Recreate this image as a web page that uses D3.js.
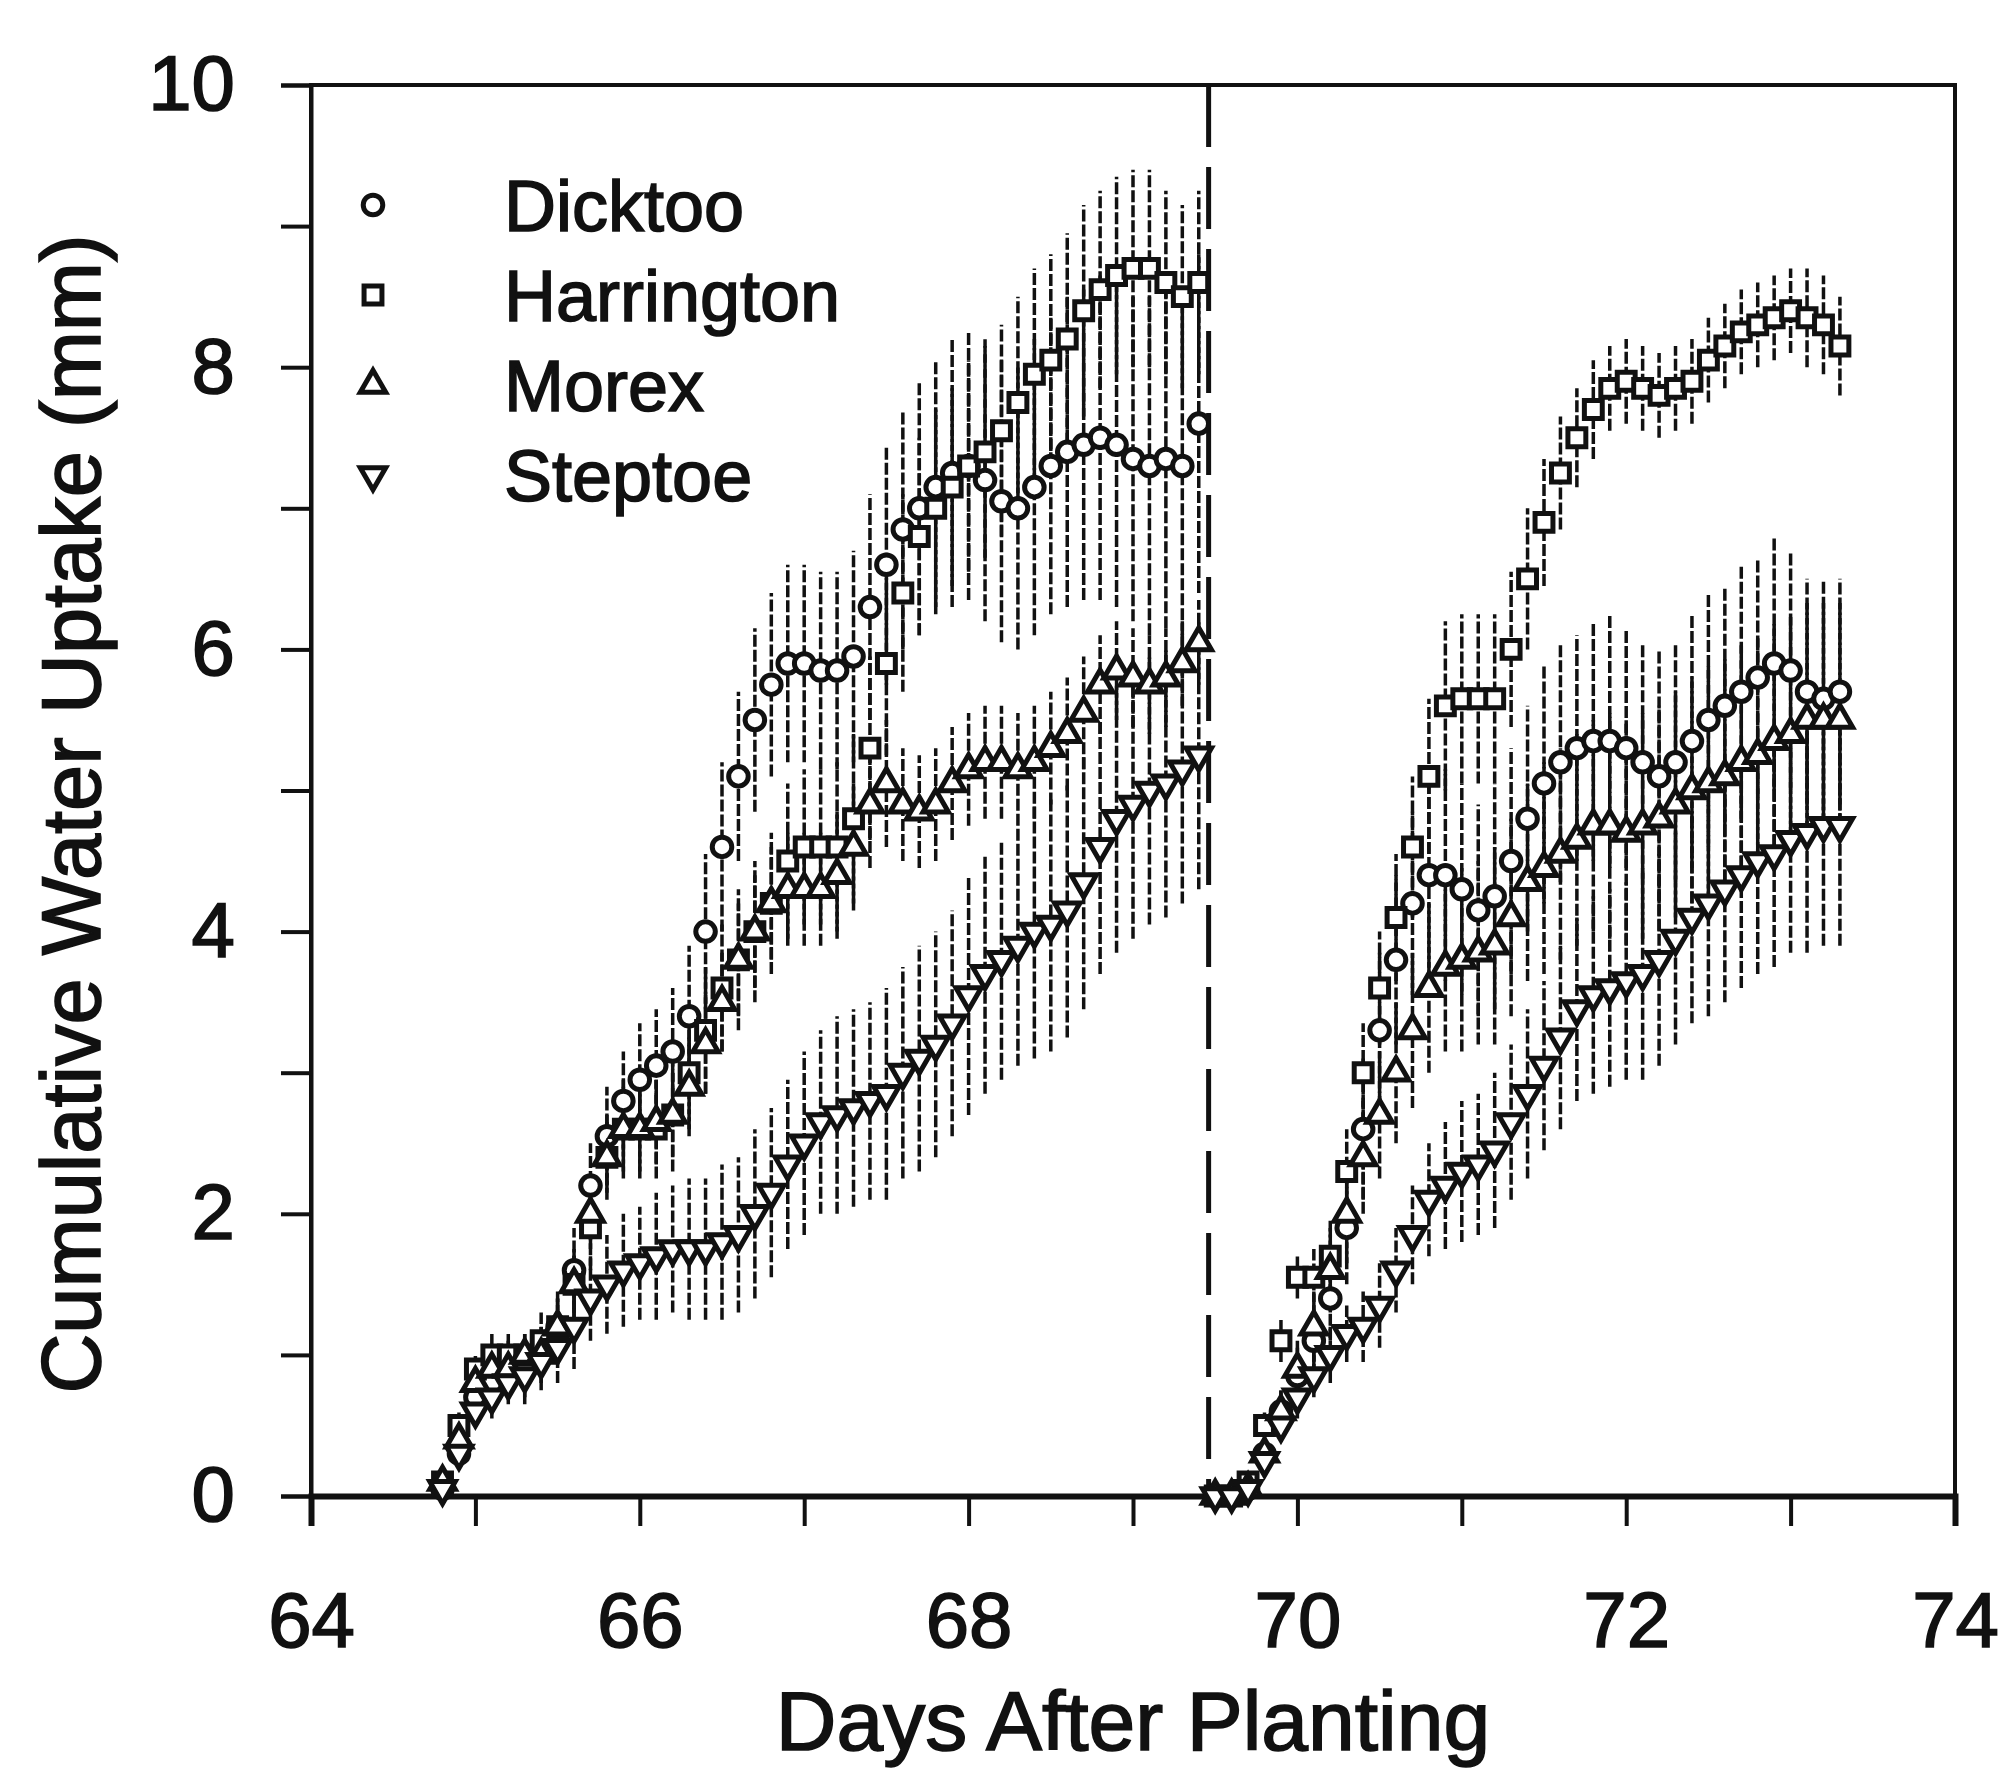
<!DOCTYPE html>
<html>
<head>
<meta charset="utf-8">
<script src="https://cdn.jsdelivr.net/npm/d3@7"></script>
<style>
  body { margin: 0; background: #fff; }
  svg { display: block; font-family: "Liberation Sans", Arial, sans-serif; }
  svg text { stroke: #111; stroke-width: 1.6px; }
</style>
</head>
<body>
<div id="wrapper"></div>
<script>
// days of the two measuring runs (split by the dashed line)
const daysLeft = [64.8, 64.9, 65.0, 65.1, 65.2, 65.3, 65.4, 65.5, 65.6, 65.7,
                  65.8, 65.9, 66.0, 66.1, 66.2, 66.3, 66.4, 66.5, 66.6, 66.7,
                  66.8, 66.9, 67.0, 67.1, 67.2, 67.3, 67.4, 67.5, 67.6, 67.7,
                  67.8, 67.9, 68.0, 68.1, 68.2, 68.3, 68.4, 68.5, 68.6, 68.7,
                  68.8, 68.9, 69.0, 69.1, 69.2, 69.3, 69.4];
const daysRight = [69.5, 69.6, 69.7, 69.8, 69.9, 70.0, 70.1, 70.2, 70.3, 70.4,
                   70.5, 70.6, 70.7, 70.8, 70.9, 71.0, 71.1, 71.2, 71.3, 71.4,
                   71.5, 71.6, 71.7, 71.8, 71.9, 72.0, 72.1, 72.2, 72.3, 72.4,
                   72.5, 72.6, 72.7, 72.8, 72.9, 73.0, 73.1, 73.2, 73.3];
const splitDay = 69.46;

const cultivars = ["Dicktoo", "Harrington", "Morex", "Steptoe"];

// cumulative uptake (mm)
const dicktooLeft = [0.05, 0.3, 0.7, 0.8, 0.9, 0.9, 1.0, 1.2, 1.6, 2.2,
                     2.55, 2.8, 2.95, 3.05, 3.15, 3.4, 4.0, 4.6, 5.1, 5.5,
                     5.75, 5.9, 5.9, 5.85, 5.85, 5.95, 6.3, 6.6, 6.85, 7.0,
                     7.15, 7.25, 7.3, 7.2, 7.05, 7.0, 7.15, 7.3, 7.4, 7.45,
                     7.5, 7.45, 7.35, 7.3, 7.35, 7.3, 7.6];
const harringtonLeft = [0.1, 0.5, 0.9, 1.0, 1.0, 1.0, 1.1, 1.2, 1.5, 1.9,
                        2.4, 2.6, 2.6, 2.6, 2.7, 3.0, 3.3, 3.6, 3.8, 4.0,
                        4.2, 4.5, 4.6, 4.6, 4.6, 4.8, 5.3, 5.9, 6.4, 6.8,
                        7.0, 7.15, 7.3, 7.4, 7.55, 7.75, 7.95, 8.05, 8.2, 8.4,
                        8.55, 8.65, 8.7, 8.7, 8.6, 8.5, 8.6];
const morexLeft = [0.1, 0.4, 0.8, 0.9, 0.9, 1.0, 1.0, 1.2, 1.5, 2.0,
                   2.4, 2.6, 2.6, 2.65, 2.7, 2.9, 3.2, 3.5, 3.8, 4.0,
                   4.2, 4.3, 4.3, 4.3, 4.4, 4.6, 4.9, 5.05, 4.9, 4.85,
                   4.9, 5.05, 5.15, 5.2, 5.2, 5.15, 5.2, 5.3, 5.4, 5.55,
                   5.75, 5.85, 5.8, 5.75, 5.8, 5.9, 6.05];
const steptoeLeft = [0.05, 0.3, 0.6, 0.7, 0.8, 0.85, 0.95, 1.05, 1.2, 1.4,
                     1.5, 1.6, 1.65, 1.7, 1.75, 1.75, 1.75, 1.8, 1.85, 2.0,
                     2.15, 2.35, 2.5, 2.65, 2.7, 2.75, 2.8, 2.85, 3.0, 3.1,
                     3.2, 3.35, 3.55, 3.7, 3.8, 3.9, 4.0, 4.05, 4.15, 4.35,
                     4.6, 4.8, 4.9, 5.0, 5.05, 5.15, 5.25];

const dicktooRight = [0.0, 0.0, 0.05, 0.3, 0.6, 0.85, 1.1, 1.4, 1.9, 2.6,
                      3.3, 3.8, 4.2, 4.4, 4.4, 4.3, 4.15, 4.25, 4.5, 4.8,
                      5.05, 5.2, 5.3, 5.35, 5.35, 5.3, 5.2, 5.1, 5.2, 5.35,
                      5.5, 5.6, 5.7, 5.8, 5.9, 5.85, 5.7, 5.65, 5.7];
const harringtonRight = [0.0, 0.0, 0.1, 0.5, 1.1, 1.55, 1.55, 1.7, 2.3, 3.0,
                         3.6, 4.1, 4.6, 5.1, 5.6, 5.65, 5.65, 5.65, 6.0, 6.5,
                         6.9, 7.25, 7.5, 7.7, 7.85, 7.9, 7.85, 7.8, 7.85, 7.9,
                         8.05, 8.15, 8.25, 8.3, 8.35, 8.4, 8.35, 8.3, 8.15];
const morexRight = [0.0, 0.0, 0.05, 0.3, 0.6, 0.9, 1.2, 1.6, 2.0, 2.4,
                    2.7, 3.0, 3.3, 3.6, 3.75, 3.8, 3.85, 3.9, 4.1, 4.35,
                    4.45, 4.55, 4.65, 4.75, 4.75, 4.7, 4.75, 4.8, 4.9, 5.0,
                    5.05, 5.1, 5.2, 5.25, 5.35, 5.4, 5.5, 5.5, 5.5];
const steptoeRight = [0.0, 0.0, 0.05, 0.25, 0.5, 0.7, 0.85, 1.0, 1.15, 1.2,
                      1.35, 1.6, 1.85, 2.1, 2.2, 2.3, 2.35, 2.45, 2.65, 2.85,
                      3.05, 3.25, 3.45, 3.55, 3.6, 3.65, 3.7, 3.8, 3.95, 4.1,
                      4.2, 4.3, 4.4, 4.5, 4.55, 4.65, 4.7, 4.75, 4.75];

// standard deviations (mm)
const dicktooLeftErr = [0.05, 0.1, 0.15, 0.15, 0.2, 0.2, 0.2, 0.25, 0.3, 0.3,
                        0.35, 0.35, 0.4, 0.4, 0.45, 0.5, 0.55, 0.6, 0.6, 0.65,
                        0.65, 0.7, 0.7, 0.7, 0.7, 0.75, 0.8, 0.85, 0.85, 0.9,
                        0.9, 0.95, 0.95, 1.0, 1.0, 1.0, 1.05, 1.05, 1.1, 1.1,
                        1.15, 1.15, 1.15, 1.2, 1.2, 1.2, 1.2];
const harringtonLeftErr = [0.05, 0.1, 0.1, 0.15, 0.15, 0.15, 0.2, 0.2, 0.25, 0.3,
                           0.3, 0.35, 0.35, 0.35, 0.4, 0.4, 0.45, 0.45, 0.5, 0.5,
                           0.5, 0.55, 0.55, 0.55, 0.6, 0.6, 0.65, 0.65, 0.7, 0.7,
                           0.7, 0.7, 0.75, 0.75, 0.75, 0.75, 0.75, 0.75, 0.75, 0.75,
                           0.7, 0.7, 0.7, 0.7, 0.65, 0.65, 0.65];
const morexLeftErr = [0.05, 0.1, 0.1, 0.1, 0.15, 0.15, 0.15, 0.2, 0.2, 0.25,
                      0.25, 0.3, 0.3, 0.3, 0.3, 0.35, 0.35, 0.35, 0.4, 0.4,
                      0.4, 0.4, 0.4, 0.4, 0.45, 0.45, 0.45, 0.45, 0.4, 0.4,
                      0.4, 0.4, 0.4, 0.4, 0.4, 0.4, 0.4, 0.4, 0.4, 0.4,
                      0.35, 0.35, 0.35, 0.35, 0.35, 0.3, 0.3];
const steptoeLeftErr = [0.05, 0.1, 0.1, 0.15, 0.15, 0.2, 0.2, 0.25, 0.3, 0.3,
                        0.35, 0.4, 0.4, 0.45, 0.45, 0.5, 0.5, 0.55, 0.55, 0.6,
                        0.6, 0.6, 0.65, 0.65, 0.7, 0.7, 0.7, 0.75, 0.75, 0.8,
                        0.8, 0.8, 0.85, 0.85, 0.85, 0.85, 0.9, 0.9, 0.9, 0.9,
                        0.9, 0.95, 0.95, 0.95, 0.95, 0.95, 0.95];

const dicktooRightErr = [0.0, 0.0, 0.05, 0.1, 0.15, 0.2, 0.25, 0.3, 0.4, 0.5,
                         0.55, 0.6, 0.65, 0.7, 0.75, 0.75, 0.75, 0.8, 0.8, 0.8,
                         0.85, 0.85, 0.8, 0.85, 0.9, 0.85, 0.85, 0.9, 0.85, 0.9,
                         0.9, 0.85, 0.9, 0.85, 0.9, 0.85, 0.8, 0.85, 0.8];
const harringtonRightErr = [0.0, 0.0, 0.05, 0.1, 0.15, 0.15, 0.2, 0.25, 0.3, 0.35,
                            0.4, 0.45, 0.5, 0.55, 0.6, 0.6, 0.6, 0.6, 0.55, 0.5,
                            0.45, 0.4, 0.35, 0.35, 0.3, 0.3, 0.3, 0.3, 0.3, 0.3,
                            0.3, 0.3, 0.3, 0.3, 0.3, 0.3, 0.35, 0.35, 0.35];
const morexRightErr = [0.0, 0.0, 0.05, 0.1, 0.15, 0.2, 0.25, 0.3, 0.35, 0.4,
                       0.45, 0.5, 0.55, 0.6, 0.6, 0.65, 0.65, 0.7, 0.7, 0.7,
                       0.75, 0.75, 0.75, 0.75, 0.8, 0.8, 0.8, 0.8, 0.8, 0.8,
                       0.85, 0.85, 0.85, 0.85, 0.85, 0.85, 0.85, 0.85, 0.85];
const steptoeRightErr = [0.0, 0.0, 0.05, 0.1, 0.1, 0.15, 0.15, 0.2, 0.2, 0.25,
                         0.3, 0.3, 0.35, 0.4, 0.45, 0.5, 0.5, 0.55, 0.55, 0.6,
                         0.6, 0.65, 0.65, 0.7, 0.7, 0.7, 0.75, 0.75, 0.75, 0.75,
                         0.8, 0.8, 0.8, 0.8, 0.8, 0.8, 0.85, 0.85, 0.85];

const xTicks = [64, 65, 66, 67, 68, 69, 70, 71, 72, 73, 74];
const yTicks = [0, 1, 2, 3, 4, 5, 6, 7, 8, 9, 10];

function buildPlot() {
    const dimension = {
        width: 2010,
        height: 1788,
        margin: { top: 85, left: 311, bottom: 292, right: 55 }
    };
    dimension.boundedWidth = dimension.width - dimension.margin.left - dimension.margin.right;
    dimension.boundedHeight = dimension.height - dimension.margin.top - dimension.margin.bottom;

    const svg = d3.select("#wrapper").append("svg")
        .attr("width", dimension.width)
        .attr("height", dimension.height);

    svg.append("rect").attr("width", dimension.width).attr("height", dimension.height).attr("fill", "#fff");

    const bounded = svg.append("g")
        .attr("transform", `translate(${dimension.margin.left},${dimension.margin.top})`);

    const xScaler = d3.scaleLinear().domain([64, 74]).range([0, dimension.boundedWidth]);
    const yScaler = d3.scaleLinear().domain([0, 10]).range([dimension.boundedHeight, 0]);

    // frame
    bounded.append("rect")
        .attr("x", xScaler(64)).attr("y", yScaler(10))
        .attr("width", xScaler(74) - xScaler(64))
        .attr("height", yScaler(0) - yScaler(10))
        .attr("fill", "none").attr("stroke", "#111").attr("stroke-width", 4);

    const yAxis = d3.axisLeft(yScaler)
        .tickValues(yTicks)
        .tickSize(30)
        .tickPadding(46)
        .tickFormat(d => d % 2 === 0 ? d : "");
    const gy = bounded.append("g").call(yAxis);

    const xAxis = d3.axisBottom(xScaler)
        .tickValues(xTicks)
        .tickSize(30)
        .tickPadding(66)
        .tickFormat(d => d % 2 === 0 ? d : "");
    const gx = bounded.append("g")
        .attr("transform", `translate(0,${dimension.boundedHeight})`)
        .call(xAxis);

    [gx, gy].forEach(g => {
        g.select(".domain").attr("stroke", "#111").attr("stroke-width", 4);
        g.selectAll(".tick line").attr("stroke", "#111").attr("stroke-width", 4);
        g.selectAll(".tick text")
            .attr("fill", "#111")
            .style("font-size", "78px")
            .style("font-family", "'Liberation Sans', Arial, sans-serif");
    });
    gx.select(".domain").attr("stroke-width", 6);

    // dashed split between the two runs
    bounded.append("line")
        .attr("x1", xScaler(splitDay)).attr("x2", xScaler(splitDay))
        .attr("y1", yScaler(10)).attr("y2", yScaler(0))
        .attr("stroke", "#111").attr("stroke-width", 5)
        .attr("stroke-dasharray", "62 20");

    const series = [
        { name: "Dicktoo", shape: d3.symbolCircle, size: 300, rot: 0,
          parts: [[daysLeft, dicktooLeft, dicktooLeftErr], [daysRight, dicktooRight, dicktooRightErr]] },
        { name: "Harrington", shape: d3.symbolSquare, size: 320, rot: 0,
          parts: [[daysLeft, harringtonLeft, harringtonLeftErr], [daysRight, harringtonRight, harringtonRightErr]] },
        { name: "Morex", shape: d3.symbolTriangle, size: 280, rot: 0,
          parts: [[daysLeft, morexLeft, morexLeftErr], [daysRight, morexRight, morexRightErr]] },
        { name: "Steptoe", shape: d3.symbolTriangle, size: 280, rot: 180,
          parts: [[daysLeft, steptoeLeft, steptoeLeftErr], [daysRight, steptoeRight, steptoeRightErr]] }
    ];

    const points = s => s.parts.flatMap(([days, vals, errs]) =>
        days.map((d, i) => ({ day: d, v: vals[i], e: errs[i] })));

    // error bars first
    const errLayer = bounded.append("g");
    series.forEach(s => {
        errLayer.selectAll(null)
            .data(points(s))
            .join("line")
            .attr("x1", d => xScaler(d.day)).attr("x2", d => xScaler(d.day))
            .attr("y1", d => yScaler(d.v - d.e)).attr("y2", d => yScaler(d.v + d.e))
            .attr("stroke", "#111")
            .attr("stroke-width", 3.5)
            .attr("stroke-dasharray", "12 3");
    });

    // markers
    series.forEach(s => {
        const sym = d3.symbol().type(s.shape).size(s.size);
        bounded.append("g").selectAll("path")
            .data(points(s))
            .join("path")
            .attr("d", sym)
            .attr("transform", d => `translate(${xScaler(d.day)},${yScaler(d.v)}) rotate(${s.rot})`)
            .attr("fill", "#fff")
            .attr("stroke", "#111")
            .attr("stroke-width", 5);
    });

    // legend
    const legend = svg.append("g").attr("transform", "translate(373,205)");
    series.forEach((s, i) => {
        const row = legend.append("g").attr("transform", `translate(0,${i * 90})`);
        row.append("path")
            .attr("d", d3.symbol().type(s.shape).size(s.size))
            .attr("transform", `rotate(${s.rot})`)
            .attr("fill", "#fff").attr("stroke", "#111").attr("stroke-width", 5);
        row.append("text")
            .attr("x", 131).attr("dy", "0.36em")
            .attr("fill", "#111")
            .style("font-size", "72px")
            .text(s.name);
    });

    // axis titles
    svg.append("text")
        .attr("x", dimension.margin.left + dimension.boundedWidth / 2)
        .attr("y", 1750)
        .attr("text-anchor", "middle")
        .attr("fill", "#111")
        .style("font-size", "84px")
        .text("Days After Planting");

    svg.append("text")
        .attr("transform", "translate(100,814) rotate(-90)")
        .attr("text-anchor", "middle")
        .attr("fill", "#111")
        .style("font-size", "83px")
        .text("Cumulative Water Uptake (mm)");
}

buildPlot();
</script>
</body>
</html>
